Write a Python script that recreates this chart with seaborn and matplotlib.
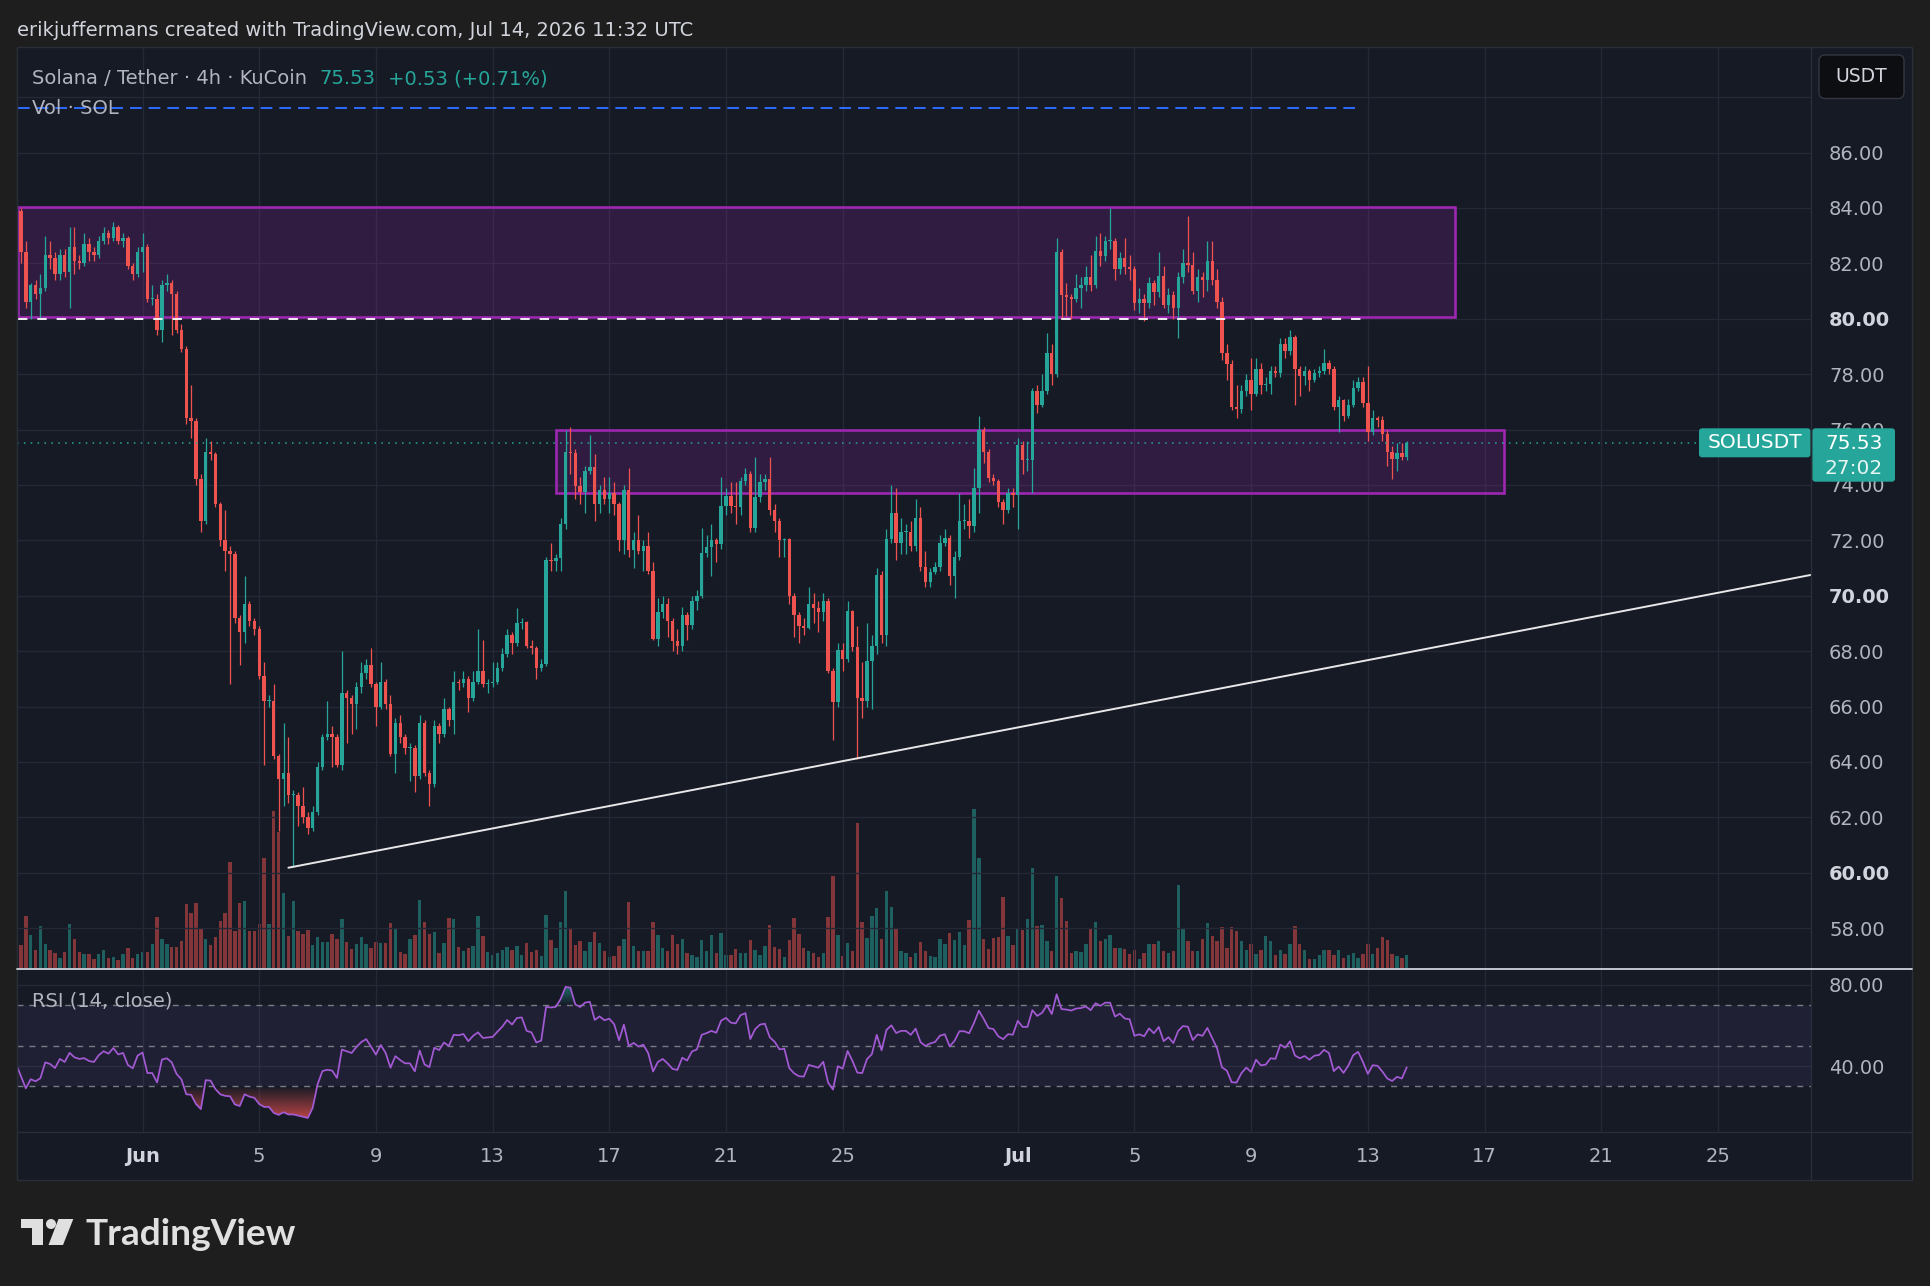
import numpy as np
import pandas as pd
import matplotlib
matplotlib.use("Agg")
import matplotlib.pyplot as plt
import matplotlib.dates as mdates
from matplotlib.colors import to_rgb, to_rgba
from matplotlib.patches import Rectangle, FancyBboxPatch, Polygon, Circle
from matplotlib.path import Path
import seaborn as sns

# SOL/USDT 4h candles (KuCoin). Open = previous close.
first_bar = "2026-05-27 16:00"
first_open = 84.3
closes = [
    83.9, 82.4, 80.6, 81.2, 80.9, 81.1, 82.3, 82.2, 81.6, 82.3, 81.7, 82.6,
    82.1, 82.0, 82.7, 82.4, 82.3, 82.8, 83.1, 82.9, 83.3, 82.8, 82.9, 81.9,
    81.6, 82.4, 82.6, 80.7, 80.7, 79.6, 81.2, 81.3, 80.9, 79.6, 78.9, 76.4,
    76.3, 74.2, 72.7, 75.2, 75.1, 73.3, 72.0, 71.6, 71.5, 69.2, 68.7, 69.7,
    69.1, 68.8, 67.1, 66.2, 66.2, 64.2, 63.4, 63.6, 62.8, 62.8, 62.4, 62.0,
    61.6, 62.2, 63.8, 64.9, 65.0, 64.9, 63.9, 66.5, 66.3, 66.1, 66.7, 67.2,
    67.5, 66.8, 66.0, 66.9, 66.1, 64.3, 65.4, 64.9, 64.5, 64.5, 63.5, 65.4,
    63.6, 63.2, 65.3, 65.0, 65.9, 65.5, 66.9, 66.85, 67.0, 66.3, 66.9, 67.3,
    66.8, 66.85, 66.9, 67.4, 67.9, 68.6, 68.3, 69.0, 69.05, 68.2, 68.1, 67.4,
    67.55, 71.3, 71.25, 71.35, 72.6, 75.2, 75.15, 73.95, 73.75, 74.5, 74.65, 73.3,
    73.8, 73.5, 73.7, 73.3, 72.0, 73.8, 71.65, 72.0, 71.6, 71.8, 70.9, 68.45,
    69.4, 69.7, 69.1, 68.35, 68.2, 69.3, 68.95, 69.8, 70.0, 71.55, 71.75, 72.0,
    71.85, 73.25, 73.6, 73.25, 73.2, 74.15, 74.4, 72.45, 73.55, 74.1, 74.2, 73.1,
    72.7, 72.0, 72.05, 70.0, 69.3, 68.9, 68.85, 69.7, 69.55, 69.4, 69.8, 67.3,
    66.15, 68.05, 67.7, 69.45, 68.15, 66.3, 66.2, 67.65, 68.2, 70.75, 68.6, 72.05,
    73.0, 71.9, 72.3, 72.3, 71.8, 72.8, 71.05, 70.5, 70.85, 71.05, 71.9, 72.1,
    70.7, 71.4, 72.7, 72.7, 72.5, 73.9, 76.0, 75.2, 74.25, 74.15, 73.4, 73.1,
    73.7, 73.65, 75.45, 74.9, 74.9, 77.4, 76.9, 77.4, 78.75, 78.0, 82.4, 80.85,
    80.8, 80.7, 81.1, 81.2, 81.5, 81.2, 82.45, 82.25, 82.8, 82.8, 81.8, 82.2,
    81.85, 81.8, 80.55, 80.7, 80.55, 81.3, 80.95, 81.55, 80.5, 80.85, 80.4, 81.5,
    82.0, 81.95, 81.0, 81.5, 81.4, 82.1, 81.4, 80.6, 78.75, 78.35, 76.8, 76.75,
    77.4, 77.8, 77.3, 78.2, 77.6, 77.65, 78.1, 78.05, 79.1, 78.85, 79.35, 78.2,
    77.95, 78.1, 77.8, 78.05, 78.1, 78.4, 78.2, 76.8, 77.05, 76.5, 76.9, 77.5,
    77.7, 76.95, 75.9, 76.4, 76.35, 75.85, 75.2, 74.95, 75.15, 75.0, 75.53,
]
highs = [
    84.6, 84.0, 82.8, 81.3, 81.4, 81.6, 83.0, 82.8, 82.4, 82.5, 82.5, 83.3,
    83.3, 82.3, 83.1, 82.9, 82.6, 83.0, 83.3, 83.2, 83.5, 83.4, 83.1, 83.0,
    82.0, 82.6, 83.1, 82.7, 81.2, 80.9, 81.4, 81.6, 81.4, 81.0, 79.8, 79.0,
    77.6, 76.4, 74.4, 75.7, 75.6, 75.2, 73.4, 73.1, 71.8, 71.6, 69.3, 70.7,
    69.8, 69.2, 68.9, 67.6, 66.4, 66.8, 64.3, 65.4, 64.9, 63.0, 62.9, 63.1,
    62.2, 62.4, 64.0, 65.0, 66.2, 65.3, 65.0, 68.0, 66.6, 66.4, 66.9, 67.6,
    67.7, 68.1, 66.9, 67.6, 67.0, 66.4, 65.6, 65.7, 65.0, 64.7, 64.6, 65.7,
    65.5, 63.7, 65.5, 65.4, 66.3, 66.0, 67.3, 67.0, 67.3, 67.1, 67.3, 68.8,
    68.4, 67.0, 67.6, 67.6, 68.1, 68.8, 68.7, 69.55, 69.2, 69.1, 68.4, 68.2,
    67.7, 71.4, 71.9, 71.5, 72.8, 76.0, 76.1, 75.3, 74.3, 74.7, 75.8, 75.1,
    74.0, 74.3, 74.3, 74.1, 73.4, 74.0, 74.6, 72.3, 72.9, 72.0, 72.3, 71.2,
    69.9, 70.0, 69.9, 69.2, 68.8, 69.6, 69.4, 70.0, 70.2, 72.45, 72.2, 72.6,
    72.1, 74.3, 73.9, 74.1, 74.1, 74.3, 74.6, 74.5, 75.0, 74.4, 74.4, 75.0,
    73.3, 72.8, 72.1, 72.1, 70.1, 69.4, 69.2, 70.3, 70.1, 69.8, 70.1, 69.9,
    67.4, 68.3, 68.3, 69.8, 69.5, 68.9, 67.6, 69.0, 68.6, 71.0, 70.9, 72.4,
    74.0, 73.9, 72.8, 72.6, 72.7, 73.5, 73.2, 71.6, 71.0, 71.2, 72.2, 72.4,
    72.2, 71.6, 73.7, 73.3, 73.5, 74.6, 76.5, 76.1, 75.3, 74.4, 74.2, 73.5,
    73.9, 73.9, 75.7, 75.6, 75.6, 77.5, 77.6, 78.0, 79.5, 79.1, 82.9, 82.5,
    81.3, 80.9, 81.6, 81.5, 81.9, 82.3, 83.0, 83.1, 83.0, 84.0, 82.9, 82.4,
    82.9, 82.3, 81.9, 81.1, 80.9, 81.5, 81.4, 82.4, 81.9, 81.1, 81.0, 81.7,
    82.5, 83.7, 82.4, 81.8, 81.7, 82.8, 82.8, 81.8, 80.8, 79.1, 78.5, 77.6,
    77.6, 78.0, 78.6, 78.6, 78.4, 77.9, 78.3, 78.3, 79.3, 79.3, 79.6, 79.4,
    78.3, 78.3, 78.2, 78.2, 78.3, 78.9, 78.5, 78.3, 77.2, 77.1, 77.1, 77.8,
    77.9, 77.9, 78.3, 76.7, 76.5, 76.5, 76.0, 75.4, 75.5, 75.5, 75.6,
]
lows = [
    83.6, 82.0, 80.4, 80.0, 80.7, 80.0, 81.0, 81.8, 81.4, 81.4, 81.5, 80.4,
    81.6, 81.8, 81.9, 82.1, 82.1, 82.2, 82.7, 82.7, 82.8, 82.7, 82.6, 81.8,
    81.4, 81.5, 81.7, 80.6, 80.5, 79.4, 79.15, 81.0, 79.4, 79.5, 78.8, 76.2,
    75.7, 74.0, 72.3, 72.6, 74.9, 73.2, 71.8, 70.9, 66.8, 69.0, 67.5, 68.3,
    68.9, 68.6, 67.0, 63.9, 66.0, 64.1, 61.5, 62.4, 62.5, 60.2, 61.7, 61.8,
    61.4, 61.5, 62.1, 63.7, 64.8, 63.8, 63.8, 63.7, 64.7, 65.0, 65.2, 66.5,
    67.0, 66.7, 65.3, 65.9, 65.9, 64.2, 63.6, 64.7, 64.3, 63.3, 62.9, 63.4,
    63.5, 62.4, 63.1, 64.7, 64.9, 65.3, 65.0, 66.6, 66.7, 65.8, 66.2, 66.8,
    66.7, 66.5, 66.7, 66.8, 67.3, 67.8, 67.9, 68.2, 68.8, 68.1, 67.9, 67.0,
    67.3, 67.45, 70.9, 70.9, 70.9, 72.4, 74.4, 73.5, 73.3, 73.0, 74.4, 72.7,
    73.0, 73.3, 73.0, 72.9, 71.6, 71.5, 71.4, 71.0, 71.5, 70.9, 70.8, 68.4,
    68.2, 69.2, 68.5, 68.0, 67.9, 68.0, 68.4, 68.8, 69.5, 69.9, 71.4, 70.7,
    71.2, 71.7, 72.9, 73.0, 72.6, 72.9, 74.0, 72.3, 72.3, 73.4, 73.8, 72.9,
    72.3, 71.4, 71.4, 69.7, 68.5, 68.3, 68.6, 68.8, 69.0, 68.7, 69.1, 67.2,
    64.8, 66.0, 67.3, 67.6, 68.0, 64.1, 65.6, 66.0, 65.9, 67.9, 68.3, 68.2,
    71.9, 71.3, 71.5, 71.5, 71.6, 71.6, 70.9, 70.3, 70.3, 70.8, 70.9, 71.8,
    70.4, 69.9, 71.3, 72.4, 72.1, 72.3, 73.0, 74.8, 74.1, 74.0, 73.2, 72.6,
    73.0, 73.2, 72.4, 74.4, 74.5, 73.7, 76.6, 76.8, 77.3, 77.6, 77.9, 80.0,
    80.1, 80.0, 80.6, 80.4, 81.0, 81.0, 81.1, 81.9, 82.1, 82.5, 81.4, 81.6,
    81.6, 81.4, 80.3, 80.2, 79.9, 80.4, 80.5, 80.8, 80.4, 80.2, 80.0, 79.3,
    81.3, 81.7, 80.9, 80.6, 80.8, 81.0, 81.2, 80.4, 78.5, 77.8, 76.7, 76.4,
    76.6, 77.2, 76.7, 77.2, 77.3, 77.4, 77.3, 77.9, 77.9, 78.6, 78.7, 76.9,
    77.2, 77.6, 77.4, 77.7, 77.9, 78.0, 78.0, 76.7, 75.9, 76.3, 76.4, 76.8,
    77.4, 76.8, 75.6, 75.8, 76.1, 75.6, 74.7, 74.2, 74.5, 74.9, 74.9,
]
# volume, relative units
volumes = [
    30, 23, 52, 33, 18, 42, 24, 18, 15, 10, 16, 44,
    29, 16, 14, 14, 9, 14, 18, 10, 11, 8, 14, 20,
    10, 14, 16, 16, 24, 51, 29, 24, 21, 21, 27, 64,
    55, 65, 39, 29, 23, 31, 47, 55, 106, 37, 65, 67,
    37, 37, 44, 110, 44, 157, 136, 75, 32, 67, 37, 34,
    38, 23, 31, 26, 26, 34, 29, 49, 26, 19, 24, 31,
    24, 20, 26, 25, 25, 45, 39, 16, 14, 29, 33, 68,
    46, 34, 36, 15, 25, 50, 49, 21, 17, 20, 22, 52,
    32, 16, 13, 15, 18, 21, 18, 22, 13, 25, 16, 18,
    12, 53, 28, 20, 46, 77, 40, 23, 27, 17, 26, 36,
    25, 17, 11, 12, 22, 29, 66, 22, 17, 17, 17, 46,
    33, 20, 17, 33, 24, 29, 15, 13, 11, 28, 17, 33,
    15, 35, 13, 13, 19, 15, 15, 28, 18, 13, 22, 43,
    21, 19, 11, 28, 50, 34, 20, 17, 15, 11, 15, 51,
    92, 33, 12, 25, 17, 145, 46, 30, 52, 60, 29, 77,
    61, 39, 17, 15, 11, 15, 26, 17, 12, 11, 29, 24,
    35, 28, 36, 23, 48, 159, 110, 29, 19, 30, 31, 71,
    32, 23, 40, 38, 49, 100, 42, 43, 27, 17, 92, 70,
    47, 15, 17, 16, 24, 40, 46, 27, 29, 33, 20, 20,
    19, 14, 18, 9, 15, 24, 24, 27, 17, 15, 17, 83,
    40, 27, 17, 17, 29, 45, 32, 27, 41, 20, 41, 37,
    27, 18, 24, 14, 18, 32, 27, 13, 18, 14, 24, 42,
    24, 18, 9, 9, 13, 18, 18, 13, 18, 10, 13, 15,
    10, 14, 24, 14, 20, 31, 28, 14, 12, 10, 13,
]
# RSI(14) of the first 14 bars (the rest comes from the closes)
rsi_head = [41, 35, 29, 33.5, 32.5, 34, 41.8, 41, 39, 43.5, 42, 46.5, 44.3, 43.5]

last_price = 75.53
change_text = "+0.53 (+0.71%)"
countdown = "27:02"

# drawings on the chart: (start, end, low, high) and levels
upper_zone = ("2026-05-27 17:30", "2026-07-16 00:00", 80.05, 84.05)
lower_zone = ("2026-06-15 04:00", "2026-07-17 16:00", 73.7, 76.0)
level_80 = ("2026-05-27 17:30", "2026-07-12 18:00", 80.0)
blue_level = ("2026-05-27 17:30", "2026-07-12 18:00", 87.6)
trend_a = ("2026-06-06 00:00", 60.18)
trend_b = ("2026-06-25 12:00", 64.13)

date_ticks = ["2026-06-01", "2026-06-05", "2026-06-09", "2026-06-13", "2026-06-17",
              "2026-06-21", "2026-06-25", "2026-07-01", "2026-07-05", "2026-07-09",
              "2026-07-13", "2026-07-17", "2026-07-21", "2026-07-25"]
date_labels = ["Jun", "5", "9", "13", "17", "21", "25", "Jul", "5", "9", "13", "17", "21", "25"]
price_ticks = list(range(58, 90, 2))
rsi_ticks = [40, 80]
rsi_levels = [30, 50, 70]

# ---------------------------------------------------------------
sns.set_theme(style="dark")
plt.rcParams["font.family"] = ["DejaVu Sans"]

W, H = 1930, 1286
OUTER = "#1e1e1e"
BG = "#161a25"
GRID = "#252935"
BORDER = "#2a2e39"
TXT = "#b2b5be"
UP = "#26a69a"
DOWN = "#ef5350"
PURPLE = "#9c27b0"
RSI_C = "#a35ad4"

times = pd.date_range(first_bar, periods=len(closes), freq="4h")
x = mdates.date2num(times.to_pydatetime())
c = np.array(closes, float)
o = np.r_[first_open, c[:-1]]
hi = np.maximum(np.array(highs, float), np.maximum(o, c))
lo = np.minimum(np.array(lows, float), np.minimum(o, c))
cols = np.where(c >= o, UP, DOWN)
bw = 0.7 / 6  # 70% of a 4h slot, in days

# RSI (Wilder, 14) from the closes
delta = np.diff(c)
gain = np.clip(delta, 0, None)
loss = np.clip(-delta, 0, None)
ag, al = gain[:14].mean(), loss[:14].mean()
rsi = list(rsi_head) + [100 - 100 / (1 + ag / al)]
for g, l in zip(gain[14:], loss[14:]):
    ag = (ag * 13 + g) / 14
    al = (al * 13 + l) / 14
    rsi.append(100 - 100 / (1 + ag / al))
rsi = np.array(rsi)

jun1 = pd.Timestamp("2026-06-01")
xl = mdates.date2num(jun1 + pd.Timedelta(days=-4.302))
xr = mdates.date2num(jun1 + pd.Timedelta(days=57.19))
dnum = lambda s: mdates.date2num(pd.Timestamp(s))
tick_x = [dnum(d) for d in date_ticks]

fig = plt.figure(figsize=(W / 100, H / 100), dpi=100, facecolor=OUTER)


def frac(x0, y0, x1, y1):
    return [x0 / W, 1 - y1 / H, (x1 - x0) / W, (y1 - y0) / H]


def overlay(z):
    a = fig.add_axes([0, 0, 1, 1], zorder=z)
    a.set_xlim(0, W)
    a.set_ylim(H, 0)
    a.axis("off")
    return a


back = overlay(-10)
back.add_patch(Rectangle((17, 47), 1895, 1133, facecolor=BG, edgecolor="none"))

ax_vol = fig.add_axes(frac(17, 47, 1811, 968), zorder=1)
ax = fig.add_axes(frac(17, 47, 1811, 968), zorder=2, sharex=ax_vol)
ax_rsi = fig.add_axes(frac(17, 969, 1811, 1132), zorder=2, sharex=ax_vol)
for a in (ax_vol, ax, ax_rsi):
    a.set_facecolor("none")
    for s in a.spines.values():
        s.set_visible(False)

# volume
ax_vol.bar(x, volumes, width=bw, color=cols, alpha=0.5, linewidth=0)
ax_vol.set_ylim(0, max(volumes) / 0.173)
ax_vol.axis("off")

# price pane
ax.set_xticks(tick_x)
ax.set_yticks(price_ticks)
ax.grid(True, color=GRID, linewidth=1.0)
ax.set_axisbelow(True)
ax.vlines(x, lo, hi, colors=cols, linewidth=0.9, zorder=3)
ax.bar(x, np.maximum(np.abs(c - o), 0.04), bottom=np.minimum(o, c), width=bw,
       color=cols, linewidth=0, zorder=4)

for s, e, zlo, zhi in (upper_zone, lower_zone):
    ax.add_patch(Rectangle((dnum(s), zlo), dnum(e) - dnum(s), zhi - zlo,
                           facecolor=to_rgba(PURPLE, 0.2), edgecolor=PURPLE,
                           linewidth=1.9, zorder=2))
ax.hlines(level_80[2], dnum(level_80[0]), dnum(level_80[1]), color="white",
          linewidth=1.3, linestyles=(0, (5.2, 5.5)), zorder=5)
ax.hlines(blue_level[2], dnum(blue_level[0]), dnum(blue_level[1]), color="#2f6bff",
          linewidth=1.4, linestyles=(0, (6, 3.6)), zorder=5)
xa, ya = dnum(trend_a[0]), trend_a[1]
slope = (trend_b[1] - ya) / (dnum(trend_b[0]) - xa)
sns.lineplot(x=[xa, xr], y=[ya, ya + slope * (xr - xa)], ax=ax, color="#e8e8e8",
             linewidth=1.4, zorder=5)
ax.axhline(last_price, color=UP, linewidth=1.1, linestyle=(0, (1, 3.5)), zorder=6)

ax.set_ylim(56.56, 89.81)
ax.yaxis.tick_right()
ax.set_yticklabels(["" if v == 88 else f"{v:.2f}" for v in price_ticks])
ax.tick_params(axis="y", length=0, pad=13, labelsize=14, labelcolor=TXT,
               right=True, labelright=True, left=False, labelleft=False)
ax.tick_params(axis="x", length=0, labelbottom=False)
for lab, v in zip(ax.get_yticklabels(), price_ticks):
    if v % 10 == 0:
        lab.set_fontweight("bold")
        lab.set_color("#d1d4dc")
ax.set_xlabel("")
ax.set_ylabel("")

# RSI pane
ax_rsi.axhspan(30, 70, color="#7e57c2", alpha=0.1, linewidth=0, zorder=1)
for lvl in rsi_levels:
    ax_rsi.axhline(lvl, color="#787b86", linewidth=1.0, linestyle=(0, (4.3, 4.3)), zorder=2)


def grad_fill(axr, xs, ys, level, color, below, amax):
    if below:
        poly = axr.fill_between(xs, ys, level, where=ys <= level, interpolate=True,
                                facecolor="none", edgecolor="none")
        y0, y1 = ys.min(), level
    else:
        poly = axr.fill_between(xs, level, ys, where=ys >= level, interpolate=True,
                                facecolor="none", edgecolor="none")
        y0, y1 = level, ys.max()
    paths = [p for p in poly.get_paths() if len(p.vertices)]
    if not paths or y1 <= y0:
        return
    ramp = np.linspace(0, 1, 256)
    alpha = amax * (1 - ramp) if below else amax * ramp
    img = np.zeros((256, 1, 4))
    img[..., :3] = to_rgb(color)
    img[..., 3] = alpha[:, None]
    im = axr.imshow(img, extent=[xs[0], xs[-1], y0, y1], origin="lower",
                    aspect="auto", interpolation="bilinear", zorder=3)
    im.set_clip_path(Path.make_compound_path(*paths), transform=axr.transData)


grad_fill(ax_rsi, x, rsi, 30, DOWN, True, 0.75)
grad_fill(ax_rsi, x, rsi, 70, UP, False, 0.6)
sns.lineplot(x=x, y=rsi, ax=ax_rsi, color=RSI_C, linewidth=1.25, zorder=4)

ax_rsi.set_ylim(7.5, 87.8)
ax_rsi.set_yticks(rsi_ticks)
ax_rsi.yaxis.tick_right()
ax_rsi.set_yticklabels([f"{v:.2f}" for v in rsi_ticks])
ax_rsi.grid(True, color=GRID, linewidth=1.0)
ax_rsi.set_axisbelow(True)
ax_rsi.set_xticks(tick_x)
ax_rsi.set_xticklabels(date_labels)
ax_rsi.tick_params(axis="y", length=0, pad=13, labelsize=14, labelcolor=TXT,
                   right=True, labelright=True, left=False, labelleft=False)
ax_rsi.tick_params(axis="x", length=0, pad=11, labelsize=14, labelcolor=TXT)
for lab in ax_rsi.get_xticklabels():
    if lab.get_text() in ("Jun", "Jul"):
        lab.set_fontweight("bold")
        lab.set_color("#d1d4dc")
ax_rsi.set_xlabel("")
ax_rsi.set_ylabel("")
ax.set_xlim(xl, xr)

# frame, header, labels
fg = overlay(20)
renderer = fig.canvas.get_renderer()
fg.add_patch(Rectangle((17, 47), 1895, 1133, facecolor="none", edgecolor=BORDER, linewidth=1))
fg.plot([1811, 1811], [47, 1180], color=BORDER, linewidth=1)
fg.plot([17, 1912], [1132, 1132], color=BORDER, linewidth=1)
fg.plot([17, 1912], [968.5, 968.5], color="#d1d4dc", linewidth=1.3)

fg.text(17, 30, "erikjuffermans created with TradingView.com, Jul 14, 2026 11:32 UTC",
        color="#d1d4dc", fontsize=14, va="center", ha="left")

xpos = 32
for txt, col, gap in (("Solana / Tether · 4h · KuCoin", TXT, 12),
                      (f"{last_price:.2f}", UP, 13), (change_text, UP, 0)):
    t = fg.text(xpos, 79, txt, color=col, fontsize=14, va="center", ha="left")
    xpos += t.get_window_extent(renderer).width + gap
fg.text(32, 108, "Vol · SOL", color=TXT, fontsize=14, va="center", ha="left")
fg.text(32, 1001, "RSI (14, close)", color=TXT, fontsize=14, va="center", ha="left")

fg.add_patch(FancyBboxPatch((1819, 55), 85, 43.5, boxstyle="round,pad=0,rounding_size=6",
                            facecolor="#0d0e11", edgecolor="#34373f", linewidth=1))
fg.text(1861.5, 77, "USDT", color="#d1d4dc", fontsize=13.5, va="center", ha="center")

fg.add_patch(FancyBboxPatch((1699, 428.3), 111.5, 29, boxstyle="round,pad=0,rounding_size=3",
                            facecolor=UP, edgecolor="none"))
fg.text(1754.5, 443, "SOLUSDT", color="white", fontsize=14.5, va="center", ha="center")
fg.add_patch(FancyBboxPatch((1812.3, 428.3), 82.7, 53.4, boxstyle="round,pad=0,rounding_size=3",
                            facecolor=UP, edgecolor="none"))
fg.text(1854, 443.5, f"{last_price:.2f}", color="white", fontsize=14.5, va="center", ha="center")
fg.text(1854, 468.5, countdown, color="#e6f4f2", fontsize=14.5, va="center", ha="center")

# TradingView logo
LOGO = "#e0e0e0"
fg.add_patch(Polygon([(20.7, 1219), (42.7, 1219), (42.7, 1245), (31.7, 1245),
                      (31.7, 1228), (20.7, 1228)], closed=True, facecolor=LOGO, edgecolor="none"))
fg.add_patch(Circle((51, 1224), 5, facecolor=LOGO, edgecolor="none"))
fg.add_patch(Polygon([(58.5, 1219), (73.3, 1219), (63, 1245), (48.5, 1245)],
                     closed=True, facecolor=LOGO, edgecolor="none"))
logo = fg.text(86, 1245, "TradingView", color=LOGO, fontsize=26, fontweight="bold",
               family=["Lato", "DejaVu Sans"], va="baseline", ha="left")
logo.set_fontsize(26 * 211 / logo.get_window_extent(renderer).width)

fig.savefig("out.png", dpi=100, facecolor=OUTER)
